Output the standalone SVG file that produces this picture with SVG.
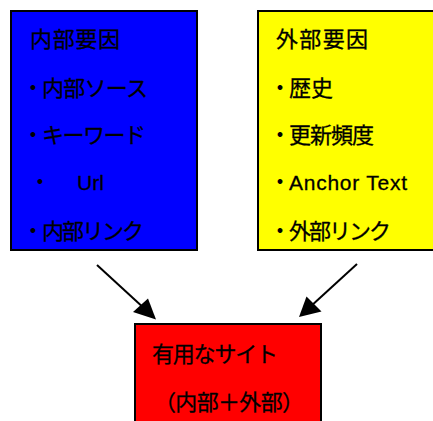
<svg xmlns="http://www.w3.org/2000/svg" width="433" height="421" viewBox="0 0 433 421">
<style>
.box{stroke:#000;stroke-width:2}
.t{font-family:"Noto Sans CJK JP","Noto Sans",sans-serif;font-size:22px;fill:#000;stroke:#000;stroke-width:0.3}
.d{font-family:"Noto Sans CJK JP","Noto Sans",sans-serif;font-size:19px;font-weight:700;fill:#000}
.l{font-family:"Liberation Sans",Arial,sans-serif;font-size:21px;fill:#000;stroke:#000;stroke-width:0.3}
.c{stroke:#000;stroke-width:2;fill:none}
</style>
<rect width="433" height="421" fill="#fff"/>
<g id="internal">
<rect class="box" x="11" y="11" width="186" height="239" fill="#0000ff"/>
<text class="t" x="30" y="47" textLength="90">内部要因</text>
<text class="d" x="23.5" y="95">・</text>
<text class="t" x="42" y="96" textLength="106">内部ソース</text>
<text class="d" x="23.5" y="142">・</text>
<text class="t" x="42" y="143" textLength="104">キーワード</text>
<text class="d" x="30.5" y="189">・</text>
<text class="l" x="77" y="190">Url</text>
<text class="d" x="23.5" y="238">・</text>
<text class="t" x="42" y="239" textLength="102">内部リンク</text>
</g>
<g id="external">
<rect class="box" x="258" y="11" width="180" height="239" fill="#ffff00"/>
<text class="t" x="276" y="47" textLength="92">外部要因</text>
<text class="d" x="270.5" y="95">・</text>
<text class="t" x="289" y="96">歴史</text>
<text class="d" x="270.5" y="142">・</text>
<text class="t" x="289" y="143" textLength="85">更新頻度</text>
<text class="d" x="270.5" y="189">・</text>
<text class="l" x="289" y="190" font-size="22" textLength="118">Anchor Text</text>
<text class="d" x="270.5" y="238">・</text>
<text class="t" x="289" y="239" textLength="102">外部リンク</text>
</g>
<g id="useful">
<rect class="box" x="135" y="324" width="186" height="110" fill="#ff0000"/>
<text class="t" x="152" y="362" textLength="126">有用なサイト</text>
<text class="t" x="154" y="410" textLength="150">（内部＋外部）</text>
</g>
<g id="connectors">
<line class="c" x1="97" y1="265" x2="146" y2="310"/>
<path d="M156,319.5 L133,312 L148,298.5 z" fill="#000"/>
<line class="c" x1="357" y1="264" x2="310" y2="307"/>
<path d="M299,317 L306.5,296.5 L321.5,311.5 z" fill="#000"/>
</g>
</svg>
